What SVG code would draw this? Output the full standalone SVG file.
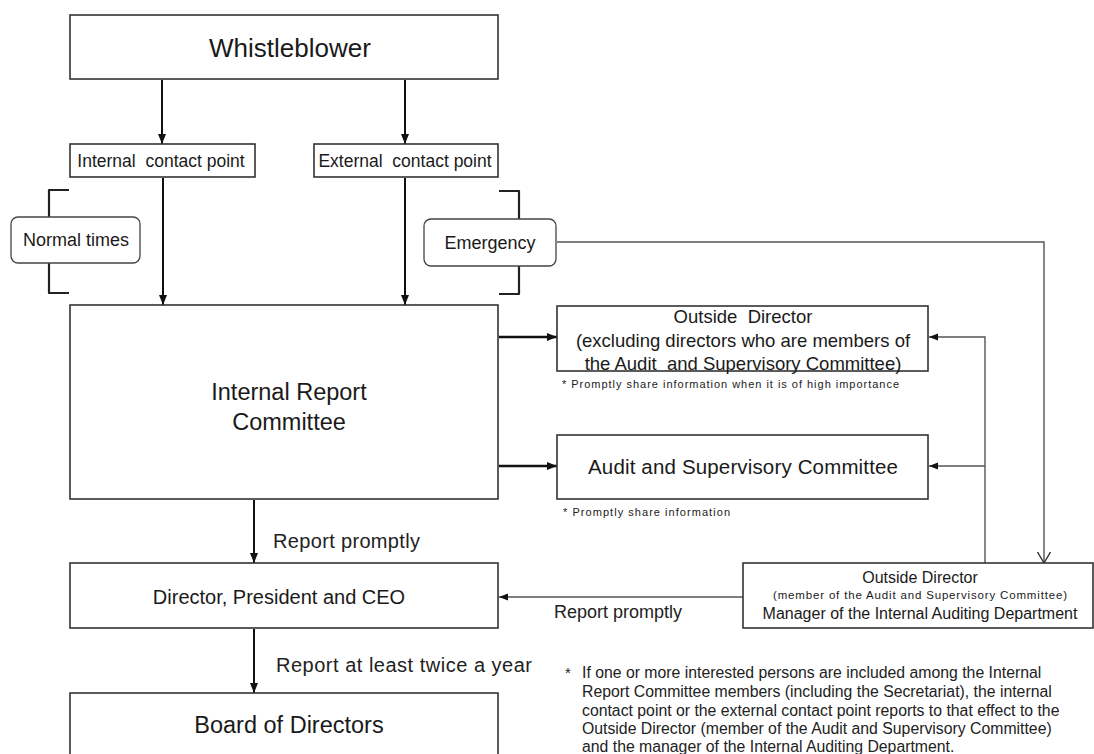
<svg xmlns="http://www.w3.org/2000/svg" width="1094" height="754" viewBox="0 0 1094 754">
<defs>
<style>
.box{fill:#fff;stroke:#333;stroke-width:1.6}
.rbox{fill:#fff;stroke:#444;stroke-width:1.3}
.t{font-family:"Liberation Sans",Arial,sans-serif;fill:#1a1a1a;text-anchor:middle}
.l{font-family:"Liberation Sans",Arial,sans-serif;fill:#222}
.main{fill:none;stroke:#111;stroke-width:2}
.thick{fill:none;stroke:#111;stroke-width:2.6}
.thin{fill:none;stroke:#555;stroke-width:1.4}
.br{fill:none;stroke:#222;stroke-width:2.2;stroke-linejoin:round}
</style>
<marker id="ah" viewBox="0 0 10 10" refX="10" refY="5" markerWidth="10" markerHeight="10" markerUnits="userSpaceOnUse" orient="auto"><path d="M0,1 L10,5 L0,9 z" fill="#111"/></marker>
<marker id="ahg" viewBox="0 0 10 10" refX="10" refY="5" markerWidth="9" markerHeight="9" markerUnits="userSpaceOnUse" orient="auto"><path d="M0,1 L10,5 L0,9 z" fill="#111"/></marker>
<marker id="ahv" viewBox="0 0 12 14" refX="11" refY="7" markerWidth="12" markerHeight="14" markerUnits="userSpaceOnUse" orient="auto"><path d="M0,0.5 L11,7 L0,13.5" fill="none" stroke="#333" stroke-width="1.4"/></marker>
</defs>
<rect width="1094" height="754" fill="#fff"/>

<g id="connectors">
<path class="main" d="M162,80 V144" marker-end="url(#ah)"/>
<path class="main" d="M405,80 V144" marker-end="url(#ah)"/>
<path class="main" d="M163,178 V305" marker-end="url(#ah)"/>
<path class="main" d="M405,178 V305" marker-end="url(#ah)"/>
<path class="thick" d="M499,337 H557" marker-end="url(#ah)"/>
<path class="thick" d="M499,466 H557" marker-end="url(#ah)"/>
<path class="main" d="M254,500 V563" marker-end="url(#ah)"/>
<path class="main" d="M254,629 V693" marker-end="url(#ah)"/>
<path class="thin" d="M557,242 H1044 V563" marker-end="url(#ahv)"/>
<path class="thin" d="M985,563 V337 H929" marker-end="url(#ahg)"/>
<path class="thin" d="M985,466 H929" marker-end="url(#ahg)"/>
<path class="thin" d="M743,597 H499" marker-end="url(#ahg)"/>
<path class="br" d="M69,190 H49 V293 H69"/>
<path class="br" d="M499,191 H519 V294 H499"/>
</g>

<g id="whistleblower">
<rect class="box" x="70" y="15" width="428" height="64"/>
<text class="t" x="290" y="57" font-size="26">Whistleblower</text>
</g>
<g id="internal-contact">
<rect class="box" x="70" y="144" width="185" height="33"/>
<text class="t" x="161" y="167" font-size="17.5">Internal&#160; contact point</text>
</g>
<g id="external-contact">
<rect class="box" x="314" y="144" width="184" height="33"/>
<text class="t" x="405" y="167" font-size="17.5">External&#160; contact point</text>
</g>
<g id="normal-times">
<rect class="rbox" x="11" y="217" width="129" height="46" rx="7"/>
<text class="t" x="76" y="246" font-size="18">Normal times</text>
</g>
<g id="emergency">
<rect class="rbox" x="424" y="219" width="132" height="47" rx="7"/>
<text class="t" x="490" y="249" font-size="18">Emergency</text>
</g>
<g id="internal-report-committee">
<rect class="box" x="70" y="305" width="428" height="194"/>
<text class="t" x="289" y="400" font-size="23.5">Internal Report</text>
<text class="t" x="289" y="430" font-size="23.5">Committee</text>
</g>
<g id="outside-director">
<rect class="box" x="557" y="306" width="371" height="65"/>
<text class="t" x="743" y="323" font-size="18.5">Outside&#160; Director</text>
<text class="t" x="743" y="347" font-size="18.5">(excluding directors who are members of</text>
<text class="t" x="743" y="370" font-size="18.5">the Audit&#160; and Supervisory Committee)</text>
<text class="l" x="562" y="388" font-size="11" textLength="337">* Promptly share information when it is of high importance</text>
</g>
<g id="audit-committee">
<rect class="box" x="557" y="435" width="371" height="64"/>
<text class="t" x="743" y="474" font-size="20.5" textLength="310">Audit and Supervisory Committee</text>
<text class="l" x="563" y="516" font-size="11" textLength="167">* Promptly share information</text>
</g>
<g id="ceo">
<rect class="box" x="70" y="563" width="428" height="65"/>
<text class="t" x="279" y="604" font-size="20">Director, President and CEO</text>
</g>
<g id="board">
<rect class="box" x="70" y="693" width="428" height="70"/>
<text class="t" x="289" y="733" font-size="23.5">Board of Directors</text>
</g>
<g id="outside-director-audit">
<rect class="box" x="743" y="563" width="350" height="65"/>
<text class="t" x="920" y="583" font-size="16">Outside Director</text>
<text class="t" x="920" y="599" font-size="11.5" textLength="294">(member of the Audit and Supervisory Committee)</text>
<text class="t" x="920" y="619" font-size="16">Manager of the Internal Auditing Department</text>
</g>

<g id="labels">
<text class="l" x="273" y="548" font-size="20" textLength="147">Report promptly</text>
<text class="l" x="554" y="618" font-size="18">Report promptly</text>
<text class="l" x="276" y="672" font-size="20" textLength="256">Report at least twice a year</text>
</g>

<g id="footnote">
<text class="l" x="565" y="678" font-size="15">*</text>
<text class="l" x="582" y="678" font-size="15.8">If one or more interested persons are included among the Internal</text>
<text class="l" x="582" y="697" font-size="15.8">Report Committee members (including the Secretariat), the internal</text>
<text class="l" x="582" y="716" font-size="15.8">contact point or the external contact point reports to that effect to the</text>
<text class="l" x="582" y="734" font-size="15.8">Outside Director (member of the Audit and Supervisory Committee)</text>
<text class="l" x="582" y="752" font-size="15.8">and the manager of the Internal Auditing Department.</text>
</g>
</svg>
